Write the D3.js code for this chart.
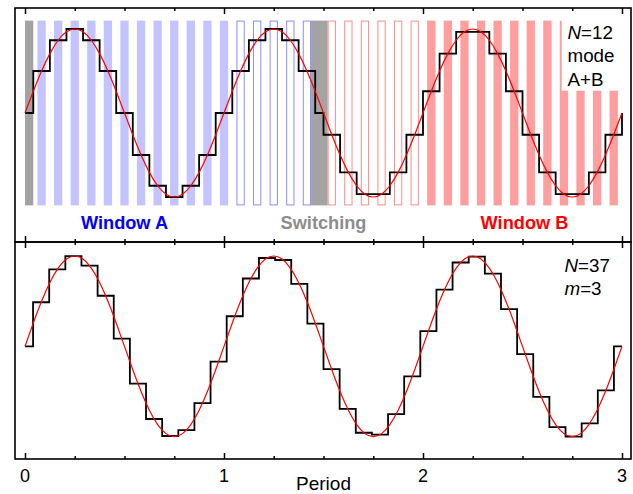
<!DOCTYPE html>
<html>
<head>
<meta charset="utf-8">
<script src="https://cdn.jsdelivr.net/npm/d3@7"></script>
<style>
  html, body { margin: 0; padding: 0; background: #fff; }
  svg { display: block; }
  text { font-family: "Liberation Sans", Arial, sans-serif; }
</style>
</head>
<body>
<svg id="chart" width="633" height="494"></svg>
<script>
// ---------------- DATA ----------------
// x axis (periods)
const xMajorTicks = [0, 1, 2, 3];
const xMinorTicks = [0.25, 0.5, 0.75, 1.25, 1.5, 1.75, 2.25, 2.5, 2.75];
const xTickLabels = ["0", "1", "2", "3"];
const xAxisTitle = "Period";

const curveStep = 1 / 24;
const curveValues = [
  0, 0.259, 0.5, 0.707, 0.866, 0.966, 1, 0.966, 0.866, 0.707, 0.5, 0.259,
  0, -0.259, -0.5, -0.707, -0.866, -0.966, -1, -0.966, -0.866, -0.707, -0.5, -0.259,
  0, 0.259, 0.5, 0.707, 0.866, 0.966, 1, 0.966, 0.866, 0.707, 0.5, 0.259,
  0, -0.259, -0.5, -0.707, -0.866, -0.966, -1, -0.966, -0.866, -0.707, -0.5, -0.259,
  0, 0.259, 0.5, 0.707, 0.866, 0.966, 1, 0.966, 0.866, 0.707, 0.5, 0.259,
  0, -0.259, -0.5, -0.707, -0.866, -0.966, -1, -0.966, -0.866, -0.707, -0.5, -0.259,
  0
];

// top panel staircase: step edges (in 1/24 period) and held levels
const topStepEdges24 = [
  0, 1, 3, 5, 7, 9, 11, 13, 15, 17, 19, 21, 23, 25, 27, 29, 31, 33, 35,
  36,
  38, 40, 42, 44, 46, 48, 50, 52, 54, 56, 58, 60, 62, 64, 66, 68, 70, 72
];
const topStepLevels = [
  // window A
  0, 0.5, 0.866, 1, 0.866, 0.5, 0, -0.5, -0.866, -1, -0.866, -0.5, 0, 0.5, 0.866, 1, 0.866, 0.5,
  // switching
  0,
  // window B
  -0.259, -0.707, -0.966, -0.966, -0.707, -0.259, 0.259, 0.707, 0.966, 0.966, 0.707, 0.259,
  -0.259, -0.707, -0.966, -0.966, -0.707, -0.259
];
const topStepEndLevel = 0;

// top panel bars (centres in 1/24 period, width 1/24 period)
const grayStartBar = [0, 1];            // [start, end] in 1/24 period
const switchingBar = [34.5, 36.5];      // [start, end] in 1/24 period
const blueFilledCenters24 = [2, 4, 6, 8, 10, 12, 14, 16, 18, 20, 22, 24];
const blueHollowCenters24 = [26, 28, 30, 32, 34];
const redHollowCenters24 = [37, 39, 41, 43, 45, 47];
const redFilledCenters24 = [49, 51, 53, 55, 57, 59, 61, 63, 65, 67, 69, 71];

// bottom panel staircase: N = 37, m = 3, sample k held around t = k*m/N
const bottomN = 37, bottomM = 3;
const bottomLevels = [
  0, 0.488, 0.852, 0.999, 0.893, 0.560, 0.085, -0.412, -0.804, -0.992, -0.928, -0.628, -0.169,
  0.333, 0.751, 0.978, 0.956, 0.692, 0.252, -0.252, -0.692, -0.956, -0.978, -0.751, -0.333,
  0.169, 0.628, 0.928, 0.992, 0.804, 0.412, -0.085, -0.560, -0.893, -0.999, -0.852, -0.488, 0
];

const windowLabels = ["Window A", "Switching", "Window B"];
const windowLabelPos = [0.5, 1.5, 2.51];
const topInfo = ["N=12", "mode", "A+B"];
const bottomInfo = ["N=37", "m=3"];

// ---------------- DRAW ----------------
(function () {
const svg = d3.select("#chart");
const L = 15, R = 631, T = 8, MID = 242, B = 459;

const x = d3.scaleLinear().domain([0, 3]).range([25, 622]);
const yTop = d3.scaleLinear().domain([-1.1, 1.1]).range([205.4, 20.6]);
const yBot = d3.scaleLinear().domain([-1, 1]).range([436.7, 256]);

const colBlueFill = "#c3c3ff", colBlueLine = "#8c8cff";
const colRedFill = "#ff9e9e", colRedLine = "#ff8c8c";
const colGray = "#a3a3a3";

const gTop = svg.append("g");
const w24 = 1 / 24;
// gray bars
[grayStartBar, switchingBar].forEach(b => {
  gTop.append("rect")
    .attr("x", x(b[0] * w24)).attr("width", x(b[1] * w24) - x(b[0] * w24))
    .attr("y", yTop(1.1)).attr("height", yTop(-1.1) - yTop(1.1))
    .attr("fill", colGray);
});
function bars(centers, fill, stroke) {
  gTop.selectAll(null).data(centers).enter().append("rect")
    .attr("x", d => x((d - 0.5) * w24) + (stroke ? 0.5 : 0))
    .attr("width", d => x((d + 0.5) * w24) - x((d - 0.5) * w24) - (stroke ? 1 : 0))
    .attr("y", yTop(1.1) + (stroke ? 0.5 : 0))
    .attr("height", yTop(-1.1) - yTop(1.1) - (stroke ? 1 : 0))
    .attr("fill", fill || "none")
    .attr("stroke", stroke || "none")
    .attr("stroke-width", 1);
}
bars(blueFilledCenters24, colBlueFill, null);
bars(blueHollowCenters24, null, colBlueLine);
bars(redHollowCenters24, null, colRedLine);
bars(redFilledCenters24, colRedFill, null);

// white info box
gTop.append("rect").attr("x", 561.7).attr("y", 20).attr("width", 66).attr("height", 70.7).attr("fill", "#fff");

// staircase helper
function stairPoints(edges, levels, endLevel) {
  const pts = [];
  for (let i = 0; i < levels.length; i++) {
    pts.push([edges[i], levels[i]]);
    pts.push([edges[i + 1], levels[i]]);
  }
  if (endLevel !== undefined) pts.push([edges[edges.length - 1], endLevel]);
  return pts;
}

const curvePts = curveValues.map((v, i) => [i * curveStep, v]);

// top staircase
const topStair = stairPoints(topStepEdges24.map(e => e * w24), topStepLevels, topStepEndLevel);
gTop.append("path")
  .attr("d", d3.line().x(d => x(d[0])).y(d => yTop(d[1]))(topStair))
  .attr("fill", "none").attr("stroke", "#000").attr("stroke-width", 1.8).attr("stroke-linejoin", "miter");
gTop.append("path")
  .attr("d", d3.line().curve(d3.curveNatural).x(d => x(d[0])).y(d => yTop(d[1]))(curvePts))
  .attr("fill", "none").attr("stroke", "#f00").attr("stroke-width", 1.2);

// bottom staircase
const botEdges = [0];
for (let k = 0; k < bottomLevels.length; k++) {
  botEdges.push(Math.min(3, (k * bottomM + bottomM / 2) / bottomN));
}
const botStair = stairPoints(botEdges, bottomLevels);
const gBot = svg.append("g");
gBot.append("path")
  .attr("d", d3.line().x(d => x(d[0])).y(d => yBot(d[1]))(botStair))
  .attr("fill", "none").attr("stroke", "#000").attr("stroke-width", 1.8);
gBot.append("path")
  .attr("d", d3.line().curve(d3.curveNatural).x(d => x(d[0])).y(d => yBot(d[1]))(curvePts))
  .attr("fill", "none").attr("stroke", "#f00").attr("stroke-width", 1.2);

// frames
svg.append("rect").attr("x", L).attr("y", T).attr("width", R - L).attr("height", MID - T)
  .attr("fill", "none").attr("stroke", "#000").attr("stroke-width", 1.6);
svg.append("rect").attr("x", L).attr("y", MID).attr("width", R - L).attr("height", B - MID)
  .attr("fill", "none").attr("stroke", "#000").attr("stroke-width", 1.6);

// ticks (inward on all horizontal edges)
function ticks(yPos, dir, vals, size) {
  const gen = (dir > 0 ? d3.axisBottom(x) : d3.axisTop(x)).tickValues(vals).tickSize(size).tickFormat("");
  const g = svg.append("g").attr("transform", `translate(0,${yPos})`).call(gen);
  g.select(".domain").remove();
  g.selectAll("line").attr("stroke", "#000").attr("stroke-width", 1.5);
}
ticks(T, 1, xMajorTicks, 6); ticks(T, 1, xMinorTicks, 3);
ticks(MID, -1, xMajorTicks, 6); ticks(MID, -1, xMinorTicks, 3);
ticks(MID, 1, xMajorTicks, 6); ticks(MID, 1, xMinorTicks, 3);
ticks(B, -1, xMajorTicks, 6); ticks(B, -1, xMinorTicks, 3);

// tick labels
svg.selectAll(null).data(xMajorTicks).enter().append("text")
  .attr("x", d => x(d)).attr("y", 482).attr("text-anchor", "middle")
  .attr("font-size", 18).attr("fill", "#000").text((d, i) => xTickLabels[i]);
svg.append("text").attr("x", x(1.5)).attr("y", 490).attr("text-anchor", "middle")
  .attr("font-size", 19).attr("fill", "#000").text(xAxisTitle);

// window labels
const labelColors = ["#0000ff", "#8c8c8c", "#ff0000"];
svg.selectAll(null).data(windowLabels).enter().append("text")
  .attr("x", (d, i) => x(windowLabelPos[i])).attr("y", 229).attr("text-anchor", "middle")
  .attr("font-size", 18.2).attr("font-weight", "bold")
  .attr("fill", (d, i) => labelColors[i]).text(d => d);

// info texts (italic symbol before "=")
function infoText(lines, x0, y0, dy) {
  lines.forEach((s, i) => {
    const t = svg.append("text").attr("x", x0).attr("y", y0 + i * dy).attr("font-size", 18.8).attr("fill", "#000");
    const eq = s.indexOf("=");
    if (eq > 0) {
      t.append("tspan").attr("font-style", "italic").text(s.slice(0, eq));
      t.append("tspan").text(s.slice(eq));
    } else t.text(s);
  });
}
infoText(topInfo, 567.5, 39, 23.3);
infoText(bottomInfo, 564.5, 272, 23);
})();
</script>
</body>
</html>
